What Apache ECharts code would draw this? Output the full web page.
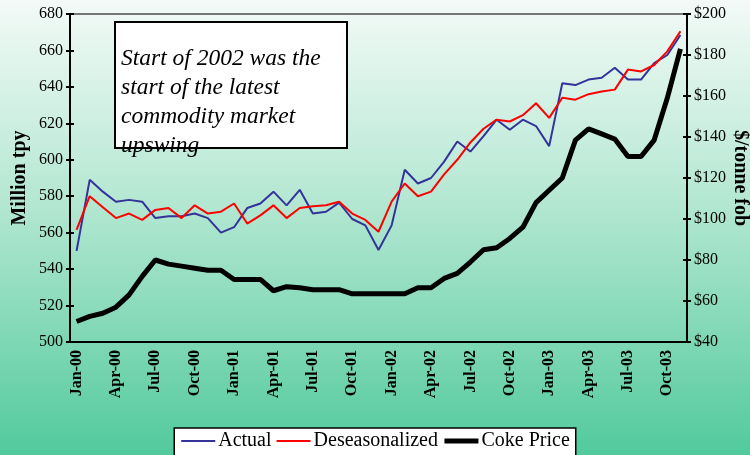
<!DOCTYPE html>
<html lang="en">
  <head>
    <meta charset="UTF-8" />
    <title>Production vs Coke Price</title>
    <script src="https://cdn.jsdelivr.net/npm/echarts@6/dist/echarts.min.js"></script>
    <style>
      * { margin: 0; padding: 0; box-sizing: border-box; }
      body { overflow: hidden; }
      #chart { width: 750px; height: 455px; }
    </style>
  </head>
  <body>
    <div id="chart"></div>
    <script>
      // monthly categories, Jan-00 .. Nov-03
      const months = [
        "Jan-00", "Feb-00", "Mar-00", "Apr-00", "May-00", "Jun-00", "Jul-00", "Aug-00", "Sep-00", "Oct-00", "Nov-00", "Dec-00",
        "Jan-01", "Feb-01", "Mar-01", "Apr-01", "May-01", "Jun-01", "Jul-01", "Aug-01", "Sep-01", "Oct-01", "Nov-01", "Dec-01",
        "Jan-02", "Feb-02", "Mar-02", "Apr-02", "May-02", "Jun-02", "Jul-02", "Aug-02", "Sep-02", "Oct-02", "Nov-02", "Dec-02",
        "Jan-03", "Feb-03", "Mar-03", "Apr-03", "May-03", "Jun-03", "Jul-03", "Aug-03", "Sep-03", "Oct-03", "Nov-03"
      ];

      // Million tpy
      const actual = [
        550, 589, 582.5, 577, 578, 577, 568, 569, 569, 570.5, 568, 560,
        563, 573.5, 576, 582.5, 575, 583.5, 570.5, 571.5, 576.5, 567.5, 564, 550.5,
        564, 594.5, 587, 590, 599, 610, 604.5, 613, 622, 616.5, 622, 618.5,
        607.5, 642, 641, 644, 645, 650.5, 644, 644, 653, 657.5, 668.5
      ];
      const deseasonalized = [
        561.5, 580, 574, 568, 570.5, 567, 572.5, 573.5, 568, 575, 570.5, 571.5,
        576, 565, 569.5, 575, 568, 573.5, 574.5, 575, 577, 570.5, 567, 560.5,
        577, 587, 580, 582.5, 592, 600, 609.5, 617, 622, 621, 624.5, 631,
        623, 634, 633, 636, 637.5, 638.5, 649.5, 648.5, 652, 659.5, 670.5
      ];
      // $/tonne fob
      const cokePrice = [
        50, 52.5, 54, 57, 63, 72, 80, 78, 77, 76, 75, 75,
        70.5, 70.5, 70.5, 65, 67, 66.5, 65.5, 65.5, 65.5, 63.5, 63.5, 63.5,
        63.5, 63.5, 66.5, 66.5, 71, 73.5, 79, 85, 86, 90.5, 96, 108,
        114, 120, 138.5, 144, 141.5, 139, 130.5, 130.5, 138.5, 159, 183
      ];

      const note = ["Start of 2002 was the", "start of the latest", "commodity market", "upswing"];

      const serif = "Liberation Serif";
      const tickStyle = { color: "#000", width: 2 };

      const chart = echarts.init(document.getElementById("chart"));

      const option = {
        backgroundColor: {
          type: "linear", x: 0, y: 0, x2: 0, y2: 1,
          colorStops: [
            { offset: 0, color: "#f3faf7" },
            { offset: 0.45, color: "#b3e7d2" },
            { offset: 1, color: "#52ca9d" }
          ]
        },
        textStyle: { fontFamily: serif, color: "#000" },
        grid: {
          left: 70, right: 63, top: 14, bottom: 113,
          containLabel: false,
          outerBoundsMode: "none",
          show: true, borderColor: "#777", borderWidth: 2,
          backgroundColor: "transparent"
        },
        legend: {
          top: 428,
          left: "center",
          backgroundColor: "#fff",
          borderColor: "#000",
          borderWidth: 1.5,
          borderRadius: 0,
          padding: [3, 6, 6, 6],
          itemWidth: 34,
          itemHeight: 14,
          itemGap: 4,
          itemStyle: { opacity: 0 },
          textStyle: { fontFamily: serif, fontSize: 20, color: "#000", padding: [0, 0, 0, -2] },
          data: [
            { name: "Actual", lineStyle: { width: 2 } },
            { name: "Deseasonalized", lineStyle: { width: 2 } },
            { name: "Coke Price", lineStyle: { width: 5 } }
          ]
        },
        xAxis: [
          {
            type: "category",
            data: months,
            boundaryGap: true,
            axisLine: { lineStyle: tickStyle },
            axisTick: { interval: 0, inside: true, length: 7, lineStyle: tickStyle },
            axisLabel: {
              interval: 2, rotate: 90, margin: 8,
              fontFamily: serif, fontSize: 16, fontWeight: "bold", color: "#000"
            },
            splitLine: { show: false }
          },
          {
            type: "category",
            data: months,
            position: "bottom",
            boundaryGap: true,
            axisLine: { show: false },
            axisTick: { interval: 0, length: 5, lineStyle: tickStyle },
            axisLabel: { show: false },
            splitLine: { show: false }
          }
        ],
        yAxis: [
          {
            type: "value",
            position: "left",
            min: 500, max: 680, interval: 20,
            name: "Million tpy",
            nameLocation: "middle",
            nameRotate: 90,
            nameGap: 40,
            nameMoveOverlap: false,
            nameTextStyle: { fontFamily: serif, fontSize: 20, fontWeight: "bold", color: "#000" },
            axisLine: { show: true, lineStyle: tickStyle },
            axisTick: { show: true, length: 4, lineStyle: tickStyle },
            axisLabel: { fontFamily: serif, fontSize: 16, color: "#000", margin: 7 },
            splitLine: { show: false }
          },
          {
            type: "value",
            position: "right",
            min: 40, max: 200, interval: 20,
            name: "$/tonne fob",
            nameLocation: "middle",
            nameRotate: -90,
            nameGap: 43,
            nameMoveOverlap: false,
            nameTextStyle: { fontFamily: serif, fontSize: 20, fontWeight: "bold", color: "#000" },
            axisLine: { show: true, lineStyle: tickStyle },
            axisTick: { show: true, length: 4, lineStyle: tickStyle },
            axisLabel: { fontFamily: serif, fontSize: 16, color: "#000", margin: 7, formatter: "${value}" },
            splitLine: { show: false }
          },
          {
            type: "value",
            position: "left",
            min: 500, max: 680, interval: 20,
            axisLine: { show: false },
            axisTick: { show: true, inside: true, length: 4, lineStyle: tickStyle },
            axisLabel: { show: false },
            splitLine: { show: false }
          },
          {
            type: "value",
            position: "right",
            min: 40, max: 200, interval: 20,
            axisLine: { show: false },
            axisTick: { show: true, inside: true, length: 4, lineStyle: tickStyle },
            axisLabel: { show: false },
            splitLine: { show: false }
          }
        ],
        graphic: [
          {
            type: "rect",
            shape: { x: 115, y: 22, width: 232, height: 126 },
            style: { fill: "#fff", stroke: "#000", lineWidth: 2 },
            z: 100
          },
          {
            type: "text",
            x: 121, y: 44,
            style: {
              text: note.join("\n"),
              font: "italic 23.5px " + serif,
              lineHeight: 29,
              fill: "#000",
              verticalAlign: "top"
            },
            z: 101
          }
        ],
        series: [
          {
            name: "Actual",
            type: "line",
            data: actual,
            symbol: "none",
            lineStyle: { color: "#333399", width: 2 },
            itemStyle: { color: "#333399" }
          },
          {
            name: "Deseasonalized",
            type: "line",
            data: deseasonalized,
            symbol: "none",
            lineStyle: { color: "#ff0000", width: 2 },
            itemStyle: { color: "#ff0000" }
          },
          {
            name: "Coke Price",
            type: "line",
            yAxisIndex: 1,
            data: cokePrice,
            symbol: "none",
            lineStyle: { color: "#000", width: 5 },
            itemStyle: { color: "#000" }
          }
        ]
      };

      chart.setOption(option);
    </script>
  </body>
</html>
